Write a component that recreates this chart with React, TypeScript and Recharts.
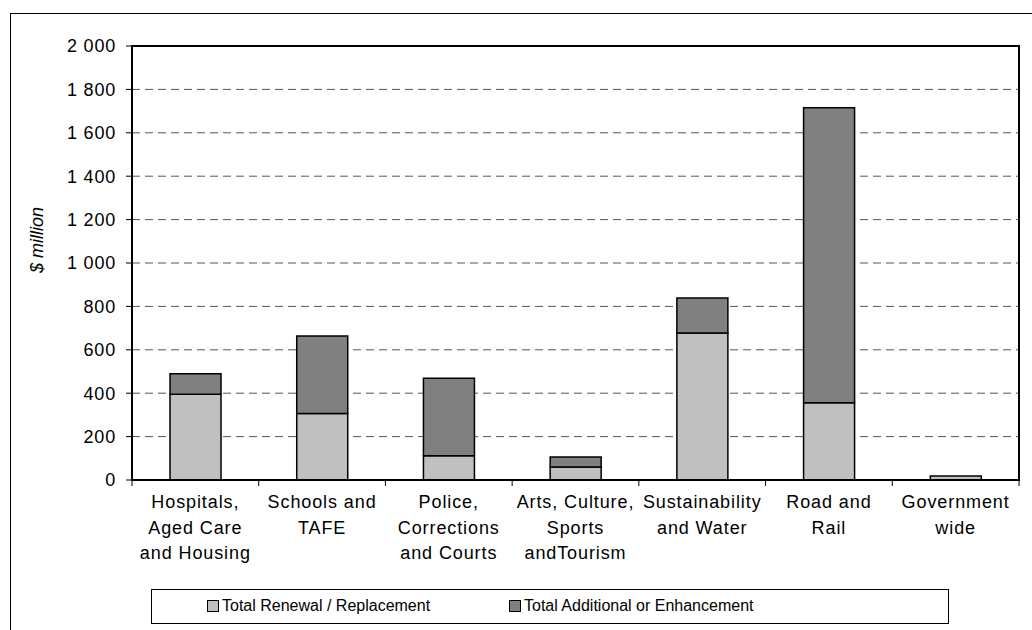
import { Bar, BarChart, CartesianGrid, XAxis, YAxis } from 'recharts'

const categories = [
  ['Hospitals,', 'Aged Care', 'and Housing'],
  ['Schools and', 'TAFE'],
  ['Police,', 'Corrections', 'and Courts'],
  ['Arts, Culture,', 'Sports', 'andTourism'],
  ['Sustainability', 'and Water'],
  ['Road and', 'Rail'],
  ['Government', 'wide'],
]
const renewal = [395, 307, 112, 60, 677, 356, 18]
const additional = [95, 357, 357, 46, 162, 1360, 0]
const seriesNames = ['Total Renewal / Replacement', 'Total Additional or Enhancement']
const yTicks = [0, 200, 400, 600, 800, 1000, 1200, 1400, 1600, 1800, 2000]

const FONT = '"Liberation Sans", Arial, sans-serif'
const PLOT_LEFT = 132
const PLOT_RIGHT = 1019
const PLOT_TOP = 46
const PLOT_BOTTOM = 480
const BAND = (PLOT_RIGHT - PLOT_LEFT) / categories.length

const data = categories.map((lines, i) => ({
  name: lines.join(' '),
  renewal: renewal[i],
  additional: additional[i],
}))

function formatTick(v: number) {
  return String(v).replace(/\B(?=(\d{3})+(?!\d))/g, ' ')
}

function CategoryTick(props: any) {
  const { x, y, payload, index } = props
  const lines = categories[index] ?? [String(payload.value)]
  const half = payload.offset || BAND / 2
  return (
    <g>
      <line x1={x - half} x2={x - half} y1={y} y2={y + 6} stroke="#000" strokeWidth={1} />
      {index === categories.length - 1 && (
        <line x1={x + half} x2={x + half} y1={y} y2={y + 6} stroke="#000" strokeWidth={1} />
      )}
      <text x={x} y={y + 28} textAnchor="middle" fontSize={18} letterSpacing={0.9} fontFamily={FONT} fill="#000">
        {lines.map((l: string, k: number) => (
          <tspan key={k} x={x} dy={k === 0 ? 0 : 25.7}>
            {l}
          </tspan>
        ))}
      </text>
    </g>
  )
}

function AxisTitle() {
  return (
    <text
      x={43}
      y={240}
      transform="rotate(-90, 43, 240)"
      textAnchor="middle"
      fontSize={18}
      fontFamily={FONT}
      fontStyle="italic"
      fill="#000"
    >
      $ million
    </text>
  )
}

export default function App() {
  return (
    <div style={{ position: 'absolute', left: 0, top: 0, width: 1032, height: 630, overflow: 'hidden', background: '#fff' }}>
      <div
        style={{
          position: 'absolute',
          left: 10,
          top: 13,
          width: 1040,
          height: 640,
          border: '1.5px solid #000',
          boxSizing: 'border-box',
        }}
      />
      <BarChart
        width={1032}
        height={630}
        data={data}
        margin={{ top: PLOT_TOP, right: 1032 - PLOT_RIGHT, left: PLOT_LEFT - 80, bottom: 630 - PLOT_BOTTOM - 100 }}
        barCategoryGap="30%"
        style={{ position: 'absolute', left: 0, top: 0 }}
      >
        <CartesianGrid vertical={false} stroke="#555" strokeDasharray="8 5" />
        <XAxis
          dataKey="name"
          height={100}
          tickSize={0}
          tickMargin={0}
          tickLine={false}
          interval={0}
          axisLine={{ stroke: '#000', strokeWidth: 2 }}
          tick={<CategoryTick />}
        />
        <YAxis
          width={80}
          domain={[0, 2000]}
          ticks={yTicks}
          interval={0}
          tickFormatter={formatTick}
          tickSize={6}
          tickMargin={10}
          tickLine={{ stroke: '#000' }}
          axisLine={{ stroke: '#000', strokeWidth: 2 }}
          tick={{ fontSize: 18, letterSpacing: 0.8, fontFamily: FONT, fill: '#000' }}
          label={<AxisTitle />}
        />
        <Bar dataKey="renewal" name={seriesNames[0]} stackId="a" fill="#c0c0c0" stroke="#000" strokeWidth={1.5} isAnimationActive={false} />
        <Bar dataKey="additional" name={seriesNames[1]} stackId="a" fill="#808080" stroke="#000" strokeWidth={1.5} isAnimationActive={false} />
      </BarChart>
      <div
        style={{
          position: 'absolute',
          left: PLOT_LEFT - 1,
          top: PLOT_TOP - 1,
          width: PLOT_RIGHT - PLOT_LEFT + 2,
          height: PLOT_BOTTOM - PLOT_TOP + 2,
          border: '2px solid #000',
          boxSizing: 'border-box',
          pointerEvents: 'none',
        }}
      />
      <div
        style={{
          position: 'absolute',
          left: 151,
          top: 589,
          width: 798,
          height: 35,
          border: '1px solid #000',
          boxSizing: 'border-box',
          fontFamily: FONT,
          fontSize: 16,
        }}
      >
        {seriesNames.map((n, i) => (
          <div
            key={n}
            style={{ position: 'absolute', left: i === 0 ? 55 : 357, top: 7, display: 'flex', alignItems: 'center', whiteSpace: 'nowrap' }}
          >
            <span
              style={{
                display: 'inline-block',
                width: 10,
                height: 10,
                border: '1px solid #000',
                background: i === 0 ? '#c0c0c0' : '#808080',
                marginRight: 3,
              }}
            />
            {n}
          </div>
        ))}
      </div>
    </div>
  )
}
